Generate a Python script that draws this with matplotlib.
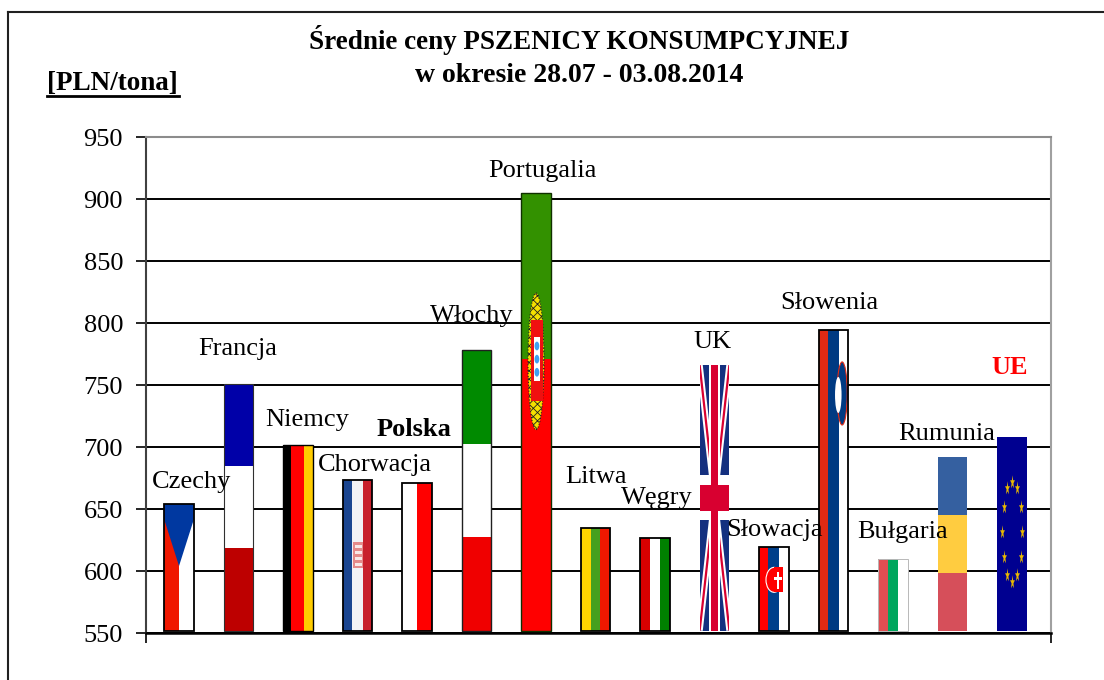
#!/usr/bin/env python3
"""Average wheat prices per country, bars painted as national flags."""

import numpy as np
import matplotlib
matplotlib.use("Agg")
import matplotlib.pyplot as plt
from matplotlib.markers import MarkerStyle
from matplotlib.patches import Ellipse, Polygon, Rectangle
from matplotlib.transforms import Affine2D

plt.rcParams['font.family'] = ['Liberation Serif', 'DejaVu Serif']
plt.rcParams['hatch.linewidth'] = 0.6

countries = ["Czechy", "Francja", "Niemcy", "Chorwacja", "Polska", "Włochy", "Portugalia", "Litwa",
             "Węgry", "UK", "Słowacja", "Słowenia", "Bułgaria", "Rumunia", "UE"]
prices = [654, 751, 702, 673, 671, 778, 905, 635, 627, 766, 619, 794, 610, 692, 708]
y_ticks = [550, 600, 650, 700, 750, 800, 850, 900, 950]
title_lines = ["Średnie ceny PSZENICY KONSUMPCYJNEJ", "w okresie 28.07 - 03.08.2014"]
unit_label = "[PLN/tona]"

# where the country names sit, in pixels of the picture
label_px = [192, 238, 307, 375, 414, 472, 542, 596, 657, 713, 775, 829, 903, 947, 1010]
label_py = [482, 349, 420, 465, 429, 316, 171, 477, 498, 342, 530, 303, 532, 434, 368]

# direction, stripe colours, stripe shares, outline, outline width
flags = {
    "Czechy": ("v", ["#F01800", "#FFFFFF"], [0.5, 0.5], "black", 1.3),
    "Francja": ("h", ["#0000A8", "#FFFFFF", "#BD0000"], [1/3, 1/3, 1/3], "#303030", 0.8),
    "Niemcy": ("v", ["#000000", "#FF0000", "#FFCC00"], [0.28, 0.42, 0.30], "black", 1.0),
    "Chorwacja": ("v", ["#1A4590", "#F2F2F5", "#C8202C"], [0.33, 0.34, 0.33], "black", 1.3),
    "Polska": ("v", ["#FFFFFF", "#FF0000"], [0.5, 0.5], "black", 1.3),
    "Włochy": ("h", ["#008A00", "#FFFFFF", "#F00000"], [1/3, 1/3, 1/3], "#202020", 1.0),
    "Portugalia": ("h", ["#339100", "#FF0000"], [0.38, 0.62], "#103000", 1.0),
    "Litwa": ("v", ["#FFD500", "#46A01E", "#F01800"], [1/3, 1/3, 1/3], "black", 1.3),
    "Węgry": ("v", ["#D80000", "#FFFFFF", "#008000"], [1/3, 1/3, 1/3], "black", 1.3),
    "UK": ("v", ["#14307F"], [1.0], None, 0),
    "Słowacja": ("v", ["#FF0000", "#003F8A", "#FFFFFF"], [0.3, 0.38, 0.32], "black", 1.3),
    "Słowenia": ("v", ["#E02A14", "#003A82", "#FFFFFF"], [0.31, 0.37, 0.32], "black", 1.3),
    "Bułgaria": ("v", ["#E04E52", "#00A65E", "#FFFFFF"], [1/3, 1/3, 1/3], "#B8B8B8", 0.7),
    "Rumunia": ("h", ["#3560A0", "#FFCC40", "#D64F5A"], [1/3, 1/3, 1/3], None, 0),
    "UE": ("v", ["#000090"], [1.0], None, 0),
}

W, H = 1104, 680
BASE = 552
BAR = 0.5

fig = plt.figure(figsize=(W / 100, H / 100), dpi=100)
ax = fig.add_axes([146 / W, 1 - 633 / H, 905 / W, 496 / H])

# outer frame runs off the picture on the right and at the bottom
fig.add_artist(plt.Line2D([8 / W, 8 / W], [0, 1 - 12 / H], color='#202020', linewidth=1.5))
fig.add_artist(plt.Line2D([8 / W, 1], [1 - 12 / H, 1 - 12 / H], color='#202020', linewidth=1.5))

ax.set_xlim(-0.555, 14.655)
ax.set_ylim(550, 950)
ax.set_yticks(y_ticks)
ax.tick_params(axis='y', labelsize=19, length=7, width=1.2, pad=9.5, color='black')
ax.set_xticks(ax.get_xlim())
ax.tick_params(axis='x', labelbottom=False, length=7, width=1.2)
ax.grid(axis='y', color='black', linewidth=1.4, zorder=1)
ax.set_axisbelow(True)
ax.spines['top'].set_color('#8C8C8C')
ax.spines['top'].set_linewidth(1.5)
ax.spines['right'].set_color('#A0A0A0')
ax.spines['right'].set_linewidth(1.5)
ax.spines['left'].set_color('#404040')
ax.spines['left'].set_linewidth(1.5)
ax.spines['bottom'].set_linewidth(1.8)


def fp(i, u, v):
    """Flag coords (u from left, v from top, both 0-1) to data coords."""
    return i - BAR / 2 + u * BAR, prices[i] - v * (prices[i] - BASE)


def poly(i, points, color, z=4):
    return ax.add_patch(Polygon([fp(i, u, v) for u, v in points], closed=True, facecolor=color,
                                edgecolor='none', zorder=z))


def ell(i, u, v, ru, rv, color, edge='none', ls='-', z=4, hatch=None):
    x, y = fp(i, u, v)
    return ax.add_patch(Ellipse((x, y), 2 * ru * BAR, 2 * rv * (prices[i] - BASE), facecolor=color,
                                edgecolor=edge, linewidth=0.8, linestyle=ls, zorder=z, hatch=hatch))


# --- bars, stripe by stripe ---
for i, name in enumerate(countries):
    direction, colors, shares, outline, outline_w = flags[name]
    pos = 0.0
    for color, share in zip(colors, shares):
        if direction == "v":
            ax.bar(i - BAR / 2 + pos * BAR, prices[i] - BASE, share * BAR, bottom=BASE, align='edge',
                   color=color, linewidth=0, zorder=3)
        else:
            top = prices[i] - pos * (prices[i] - BASE)
            ax.bar(i, share * (prices[i] - BASE), BAR, bottom=top - share * (prices[i] - BASE),
                   color=color, linewidth=0, zorder=3)
        pos += share
    if outline:
        ax.bar(i, prices[i] - BASE, BAR, bottom=BASE, fill=False, edgecolor=outline, linewidth=outline_w, zorder=6)

# --- flag details ---
# Czech triangle
i = countries.index("Czechy")
poly(i, [(0, 0), (1, 0), (1, 0.12), (0.5, 0.49), (0, 0.12)], "#0038A0")

# Croatian coat of arms
i = countries.index("Chorwacja")
poly(i, [(0.36, 0.41), (0.68, 0.41), (0.68, 0.58), (0.36, 0.58)], "#E58A8A")
for v in np.arange(0.43, 0.57, 0.04):
    poly(i, [(0.40, v), (0.64, v), (0.64, v + 0.018), (0.40, v + 0.018)], "#F8E8E8", z=5)

# Portuguese coat of arms
i = countries.index("Portugalia")
ell(i, 0.5, 0.385, 0.27, 0.156, "#F5E000", edge='#202020', ls=':', hatch='xxxx')
poly(i, [(0.33, 0.29), (0.72, 0.29), (0.72, 0.475), (0.33, 0.475)], "#F01010", z=5)
poly(i, [(0.44, 0.33), (0.63, 0.33), (0.63, 0.43), (0.44, 0.43)], "#FFFFFF", z=5)
for v in [0.35, 0.38, 0.41]:
    ell(i, 0.53, v, 0.08, 0.01, "#40A0F0", z=6)

# Union Jack
i = countries.index("UK")
clip = Rectangle((i - BAR / 2, BASE), BAR, prices[i] - BASE, transform=ax.transData)
for corners in [((0, 0), (1, 1)), ((1, 0), (0, 1))]:
    for lw, color in [(4.5, "#FFFFFF"), (1.6, "#D80030")]:
        xs, ys = zip(*[fp(i, u, v) for u, v in corners])
        line, = ax.plot(xs, ys, color=color, linewidth=lw, zorder=4, solid_capstyle='butt')
        line.set_clip_path(clip)
poly(i, [(0.33, 0), (0.67, 0), (0.67, 1), (0.33, 1)], "#FFFFFF", z=5)
poly(i, [(0, 0.415), (1, 0.415), (1, 0.585), (0, 0.585)], "#FFFFFF", z=5)
poly(i, [(0.39, 0), (0.61, 0), (0.61, 1), (0.39, 1)], "#D80030", z=5)
poly(i, [(0, 0.45), (1, 0.45), (1, 0.55), (0, 0.55)], "#D80030", z=5)

# Slovak shield
i = countries.index("Słowacja")
ell(i, 0.5, 0.39, 0.27, 0.15, "#FF0000", edge='#FFFFFF')
poly(i, [(0.5, 0.24), (0.8, 0.24), (0.8, 0.54), (0.5, 0.54)], "#FF0000", z=5)
poly(i, [(0.61, 0.29), (0.66, 0.29), (0.66, 0.50), (0.61, 0.50)], "#FFFFFF", z=6)
poly(i, [(0.50, 0.35), (0.77, 0.35), (0.77, 0.39), (0.50, 0.39)], "#FFFFFF", z=6)

# Slovenian shield
i = countries.index("Słowenia")
ell(i, 0.79, 0.21, 0.17, 0.105, "#003A82", edge='#E02A14')
ell(i, 0.66, 0.215, 0.11, 0.06, "#FFFFFF")

# EU stars
i = countries.index("UE")
angles = np.deg2rad(np.arange(0, 360, 30))
star_x, star_y = fp(i, 0.5 + 0.33 * np.cos(angles), 0.49 + 0.26 * np.sin(angles))
star = MarkerStyle('*', transform=Affine2D().scale(0.35, 1.0))
ax.scatter(star_x, star_y, s=110, marker=star, color="#E8B800", linewidths=0, zorder=4)

# --- text ---
for name, px, py in zip(countries, label_px, label_py):
    color, weight = 'black', 'normal'
    if name == "Polska":
        weight = 'bold'
    if name == "UE":
        color, weight = '#FF0000', 'bold'
    fig.text(px / W, 1 - py / H, name, ha='center', va='center', fontsize=19, color=color,
             fontweight=weight, zorder=8)

fig.text(579 / W, 1 - 40 / H, title_lines[0], ha='center', va='center', fontsize=19.5, fontweight='bold')
fig.text(579 / W, 1 - 76 / H, title_lines[1], ha='center', va='center', fontsize=20, fontweight='bold')
fig.text(47 / W, 1 - 84 / H, unit_label, ha='left', va='center', fontsize=19.5, fontweight='bold')
fig.add_artist(plt.Line2D([47 / W, 179 / W], [1 - 95.5 / H, 1 - 95.5 / H], color='black', linewidth=2))

plt.savefig("out.png", dpi=100)
